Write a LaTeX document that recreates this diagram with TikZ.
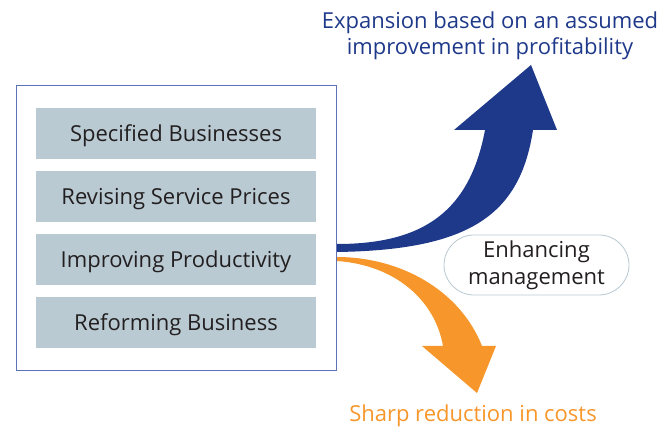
\documentclass[tikz,border=0pt]{standalone}
\usepackage{fontspec}
\setmainfont{Open Sans}
\definecolor{frameblue}{HTML}{5E72B8}
\definecolor{greybox}{HTML}{B9CAD3}
\definecolor{arrowblue}{HTML}{1F398A}
\definecolor{arroworange}{HTML}{F7962A}
\definecolor{txtdark}{HTML}{231F20}
\definecolor{pillline}{HTML}{B7C8D1}
\tikzset{
  itembox/.style={fill=greybox, minimum width=280pt, minimum height=51pt, inner sep=0pt, text height=15.7pt, text depth=0pt, text=txtdark, font=\fontsize{22}{26}\selectfont},
  frame/.style={draw=frameblue, line width=0.8pt},
  pill/.style={draw=pillline, line width=0.8pt, rounded corners=30pt, minimum width=185pt, minimum height=60pt, inner sep=0pt, align=center, text=txtdark, font=\fontsize{22}{27}\selectfont},
  toplabel/.style={text=arrowblue, anchor=base, inner sep=0pt, font=\fontsize{22}{26}\selectfont},
  botlabel/.style={text=arroworange, anchor=base, inner sep=0pt, font=\fontsize{22}{26}\selectfont},
}
\begin{document}
\begin{tikzpicture}[x=1pt,y=-1pt]
\useasboundingbox (0,0) rectangle (662,430);
\node[frame, minimum width=320pt, minimum height=285pt, inner sep=0pt] (outer) at (176,227.5) {};
\node[itembox] (b1) at (176,133.5) {Specified Businesses};
\node[itembox] (b2) at (176,197) {Revising Service Prices};
\node[itembox] (b3) at (176,260) {Improving Productivity};
\node[itembox] (b4) at (176,323) {Reforming Business};
% blue arrow
\fill[arrowblue] (337,244) .. controls (425,244) and (470,210) .. (485,130) -- (454,130) -- (531,65) -- (557,130) -- (533,130) .. controls (520,215) and (470,250) .. (337,252) -- cycle;
% orange arrow
\fill[arroworange] (337,257) .. controls (400,257) and (460,290) .. (482,346) -- (496,346) -- (477,393) -- (422,346) -- (443,346) .. controls (435,300) and (395,265) .. (337,261) -- cycle;
\node[pill] (mgmt) at (536.5,265) {Enhancing\\management};
\node[toplabel] (top1) at (490,28.3) {Expansion based on an assumed};
\node[toplabel] (top2) at (490,54.3) {improvement in profitability};
\node[botlabel] (bot) at (473,422) {Sharp reduction in costs};
\end{tikzpicture}
\end{document}
